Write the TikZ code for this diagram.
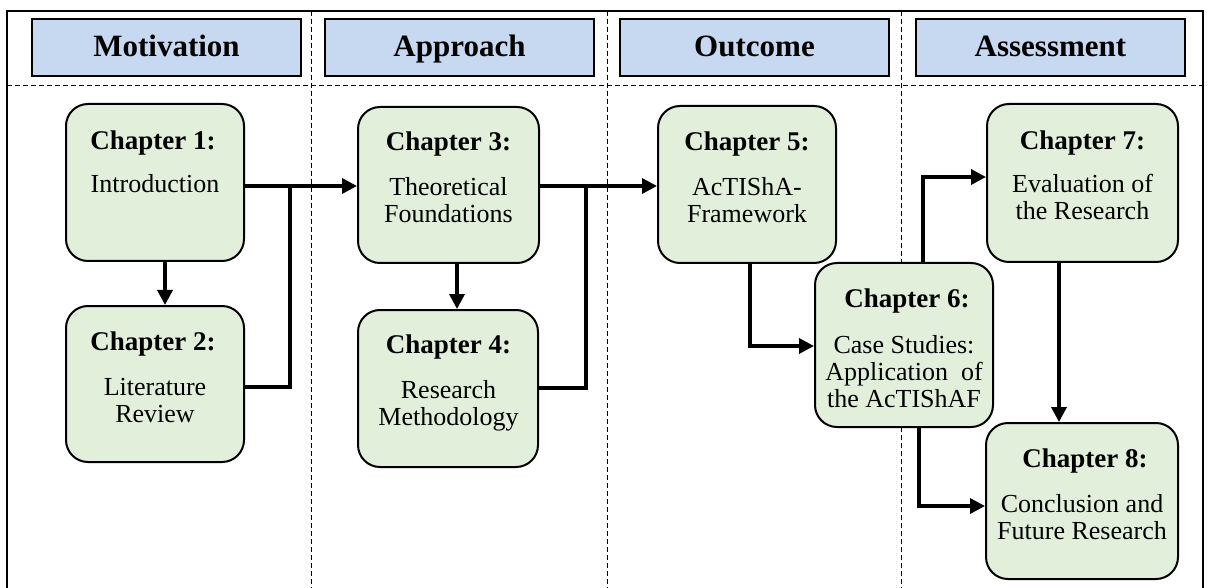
\documentclass[tikz,border=0pt]{standalone}
\usepackage{fontspec}
\setmainfont{Liberation Serif}
\usetikzlibrary{arrows.meta}
\definecolor{headfill}{HTML}{C6D9F0}
\definecolor{chapfill}{HTML}{E2EFDA}

\begin{document}
\begin{tikzpicture}[x=1pt,y=-1pt,
  headbox/.style={draw, line width=2pt, fill=headfill, minimum width=269pt,
    minimum height=57pt, inner sep=0pt, text height=22pt, text depth=3pt,
    font=\fontsize{31}{34}\selectfont\bfseries},
  chapbox/.style={draw, line width=2pt, fill=chapfill, rounded corners=22pt, inner sep=0pt},
  ctitle/.style={anchor=base, inner sep=0pt, font=\fontsize{27}{30}\selectfont\bfseries},
  cbody/.style={anchor=base, inner sep=0pt, align=center, font=\fontsize{26}{27}\selectfont},
  lanesep/.style={dash pattern=on 5pt off 3pt, line width=1pt},
  link/.style={line width=3.5pt},
  arr/.style={link, -{Triangle[length=15pt,width=15pt]}}]

\useasboundingbox (0,0) rectangle (1208,588);

% frame (open at the bottom) and lane separators
\draw[lanesep] (7,86) -- (1203,86);
\foreach \lx in {311,607,901} \draw[lanesep] (\lx,11) -- (\lx,588);
\draw[line width=2pt] (7,589) -- (7,11) -- (1203,11) -- (1203,589);

% lane headers
\node[headbox] (hmot) at (166.5,47.5) {Motivation};
\node[headbox] (happ) at (459.5,47.5) {Approach};
\node[headbox] (hout) at (754.5,47.5) {Outcome};
\node[headbox] (hass) at (1050.5,47.5) {Assessment};

% chapter boxes
\node[chapbox, minimum width=178pt, minimum height=157pt] (c1) at (155,182.5) {};
\node[chapbox, minimum width=178pt, minimum height=156pt] (c2) at (155,384) {};
\node[chapbox, minimum width=181pt, minimum height=156pt] (c3) at (448.5,185) {};
\node[chapbox, minimum width=180pt, minimum height=157pt] (c4) at (448,388.5) {};
\node[chapbox, minimum width=178pt, minimum height=157pt] (c5) at (747,184.5) {};
\node[chapbox, minimum width=178pt, minimum height=164pt] (c6) at (904,345) {};
\node[chapbox, minimum width=191pt, minimum height=158pt] (c7) at (1082.5,183) {};
\node[chapbox, minimum width=192pt, minimum height=156pt] (c8) at (1082,501) {};

% chapter texts (body nodes are placed by the baseline of their last line)
\node[ctitle] (t1) at (153,150) {Chapter 1:};
\node[cbody]  (b1) at (155,193) {Introduction};
\node[ctitle] (t2) at (153,350) {Chapter 2:};
\node[cbody]  (b2) at (155,422) {Literature\\Review};
\node[ctitle] (t3) at (448.5,151) {Chapter 3:};
\node[cbody]  (b3) at (448.5,223) {Theoretical\\Foundations};
\node[ctitle] (t4) at (448.5,353) {Chapter 4:};
\node[cbody]  (b4) at (448.5,425) {Research\\Methodology};
\node[ctitle] (t5) at (747,151) {Chapter 5:};
\node[cbody]  (b5) at (747,223) {AcTIShA-\\Framework};
\node[ctitle] (t6) at (907,307) {Chapter 6:};
\node[cbody]  (b6) at (904,407) {Case Studies:\\Application~~of\\the AcTIShAF};
\node[ctitle] (t7) at (1082.5,150) {Chapter 7:};
\node[cbody]  (b7) at (1082.5,220) {Evaluation of\\the Research};
\node[ctitle] (t8) at (1085,467) {Chapter 8:};
\node[cbody]  (b8) at (1082,539) {Conclusion and\\Future Research};

% junction points of the connectors
\coordinate (j1) at (290,186);
\coordinate (j2) at (290,387);
\coordinate (j3) at (586,186);
\coordinate (j4) at (586,388);
\coordinate (j5) at (750,346);
\coordinate (j6) at (923,177);
\coordinate (j7) at (919,506);

% connectors
\draw[arr] (c1.south -| 165,0) -- (c2.north -| 165,0);
\draw[arr] (c1.east |- j1) -- (c3.west |- j1);
\draw[link] (c2.east |- j2) -- (j2) -- (j1);
\draw[arr] (c3.south -| 457,0) -- (c4.north -| 457,0);
\draw[arr] (c3.east |- j3) -- (c5.west |- j3);
\draw[link] (c4.east |- j4) -- (j4) -- (j3);
\draw[arr] (c5.south -| j5) -- (j5) -- (c6.west |- j5);
\draw[arr] (c6.north -| j6) -- (j6) -- (c7.west |- j6);
\draw[arr] (c6.south -| j7) -- (j7) -- (c8.west |- j7);
\draw[arr] (c7.south -| 1059,0) -- (c8.north -| 1059,0);
\end{tikzpicture}
\end{document}
